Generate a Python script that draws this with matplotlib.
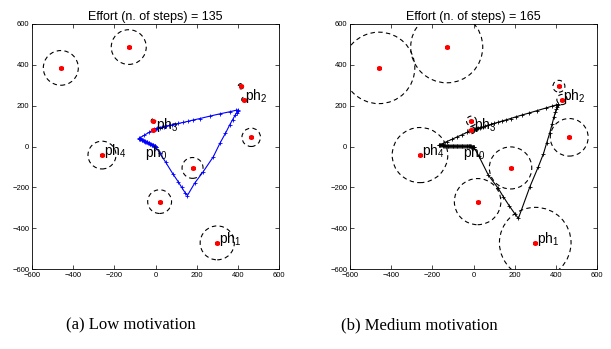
import matplotlib
matplotlib.use("Agg")
import matplotlib.pyplot as plt
from matplotlib.patches import Circle

# ---------------- data ----------------
# resource (red star) positions, shared by both panels
res_x = [-460, -130, 415, 430, 465, -10, -10, -260, 180, 20, 300]
res_y = [385, 487, 295, 230, 45, 125, 80, -42, -105, -270, -472]
# perception radii (dashed circles)
radii_low = [85, 85, 13, 11, 45, 11, 8, 68, 51, 58, 83]
radii_med = [175, 175, 29, 25, 92, 24, 17, 135, 103, 113, 174]

# phase labels
ph_labels = [r"ph$_0$", r"ph$_1$", r"ph$_2$", r"ph$_3$", r"ph$_4$"]
ph_lx = [-50, 310, 437, 0, -252]
ph_ly = [-30, -453, 249, 106, -24]

titles = ["Effort (n. of steps) = 135", "Effort (n. of steps) = 165"]
captions = ["(a) Low motivation", "(b) Medium motivation"]

# trajectory, low motivation (blue)
traj_low_x = [0, 20, 50, 85, 110, 127, 145, 155,
              190, 232, 281, 313, 340, 360, 375, 386, 395, 400, 403,
              390, 360, 313, 265, 216, 184, 160, 135, 111, 95, 80, 65, 52, 40, 30, 20, 12, 5, 0, -5, -10,
              -30, -55, -75, -80,
              -78, -76, -73, -70, -67, -64, -61, -58, -55, -52, -49, -46, -43, -40, -37, -34, -31,
              -28, -25, -22, -19, -16, -13, -10, -8, -6, -4, -3, -2, -1, 0]
traj_low_y = [0, -31, -78, -135, -172, -200, -228, -240,
              -180, -123, -50, 16, 65, 105, 132, 152, 166, 174, 180,
              177, 170, 160, 149, 137, 130, 124, 118, 113, 109, 106, 103, 100, 97, 95, 93, 91, 89, 88, 86, 82,
              70, 55, 43, 40,
              39, 38, 36, 35, 33, 32, 30, 29, 27, 26, 24, 23, 21, 20, 18, 17, 15,
              14, 12, 11, 9, 8, 6, 5, 4, 3, 2, 1, 1, 0, 0]

# trajectory, medium motivation (black)
traj_med_x = [0, 25, 72, 120, 145, 174, 202, 218,
              274, 315, 340, 355, 370, 382, 391, 398, 403, 407, 410, 411,
              400, 380, 350, 310, 270, 235, 205, 180, 160, 140, 120, 100, 85, 70, 58, 48, 38, 30, 22, 15, 8, 2, -3, -7, -10,
              -30, -55, -80, -105, -130, -150, -165, -170,
              -166, -162, -158, -154, -150, -146, -142, -138, -134, -130, -126, -122, -118, -114, -110,
              -106, -102, -98, -94, -90, -86, -82, -78, -74, -70, -66, -62, -58, -54, -50,
              -46, -42, -38, -34, -30, -27, -24, -21, -18, -15, -12, -10, -8, -6, -4, -2, -1, 0]
traj_med_y = [0, -45, -140, -205, -246, -291, -331, -352,
              -197, -99, -35, 16, 65, 110, 145, 168, 183, 194, 202, 206,
              203, 197, 188, 176, 164, 154, 145, 137, 131, 125, 119, 113, 108, 104, 100, 97, 94, 92, 90, 88, 86, 84, 83, 82, 80,
              70, 58, 47, 35, 24, 14, 7, 5,
              5, 5, 5, 5, 5, 4, 4, 4, 4, 4, 4, 4, 3, 3, 3,
              3, 3, 3, 3, 3, 2, 2, 2, 2, 2, 2, 2, 2, 2, 2,
              1, 1, 1, 1, 1, 1, 1, 1, 1, 1, 1, 0, 0, 0, 0, 0, 0, 0]

traj_x = [traj_low_x, traj_med_x]
traj_y = [traj_low_y, traj_med_y]
radii = [radii_low, radii_med]
traj_colors = ["#0000ff", "#000000"]

ticks = [-600, -400, -200, 0, 200, 400, 600]

# ---------------- figure ----------------
plt.rcParams["font.family"] = ["Liberation Sans", "DejaVu Sans"]
plt.rcParams["mathtext.fontset"] = "custom"
plt.rcParams["mathtext.rm"] = "Liberation Sans"
plt.rcParams["mathtext.it"] = "Liberation Sans"

fig = plt.figure(figsize=(6.11, 3.49), dpi=100)
positions = [[32 / 611, 80 / 349, 247 / 611, 245 / 349],
             [350 / 611, 80 / 349, 247 / 611, 245 / 349]]

for i in range(2):
    ax = fig.add_axes(positions[i])
    ax.set_xlim(-600, 600)
    ax.set_ylim(-600, 600)
    for cx, cy, r in zip(res_x, res_y, radii[i]):
        ax.add_patch(Circle((cx, cy), r, fill=False, ls=(0, (4, 3)),
                            lw=0.8, ec="black", zorder=2))
    ax.plot(traj_x[i], traj_y[i], "-", color=traj_colors[i], lw=0.8,
            marker="+", ms=3.5, mew=0.6, zorder=3)
    ax.plot(res_x, res_y, ls="none", marker=(6, 2, 0), ms=3.5, mew=1.2,
            color="#ff0000", zorder=4)
    for lab, lx, ly in zip(ph_labels, ph_lx, ph_ly):
        ax.text(lx, ly, lab, fontsize=10, ha="left", va="center", zorder=5)
    ax.set_xticks(ticks)
    ax.set_yticks(ticks)
    ax.set_xticklabels([f"{t}".replace("-", "\u2212") for t in ticks])
    ax.set_yticklabels([f"{t}".replace("-", "\u2212") for t in ticks])
    ax.tick_params(direction="in", length=3, width=0.5, labelsize=5.5,
                   top=True, right=True, pad=2)
    for s in ax.spines.values():
        s.set_linewidth(0.6)
    ax.set_title(titles[i], fontsize=9, pad=3)

fig.text(131 / 611, 1 - 325 / 349, captions[0], fontsize=12,
         family="Liberation Serif", ha="center", va="center")
fig.text(419 / 611, 1 - 325 / 349, captions[1], fontsize=12,
         family="Liberation Serif", ha="center", va="center")

fig.savefig("out.png", dpi=100)
